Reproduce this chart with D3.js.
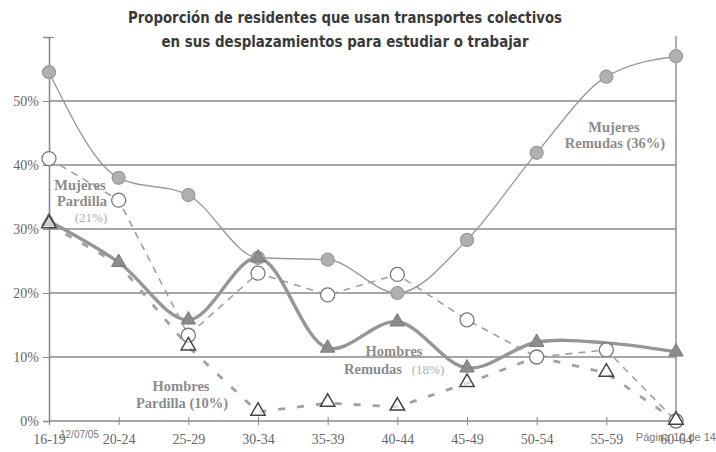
<!DOCTYPE html>
<html><head><meta charset="utf-8">
<script src="https://cdn.jsdelivr.net/npm/d3@7"></script>
<style>body{margin:0;background:#fff}svg{display:block}</style>
</head><body>
<script>
const categories = ["16-19","20-24","25-29","30-34","35-39","40-44","45-49","50-54","55-59","60-64"];
const mujeresRemudas = [54.5, 38, 35.3, 25.5, 25.2, 20, 28.3, 41.9, 53.8, 57];
const mujeresPardilla = [41, 34.5, 13.4, 23.1, 19.7, 22.9, 15.8, 10, 11.1, 0];
const hombresRemudas = [31.2, 24.8, 15.8, 25.5, 11.4, 15.5, 8.3, 12.3, 12.2, 10.8];
const hombresPardilla = [30.7, 24.5, 11.6, 1.4, 2.8, 2.2, 5.9, 10, 7.5, 0];
const yTicks = [0, 10, 20, 30, 40, 50];
const titleLines = ["Proporción de residentes que usan transportes colectivos", "en sus desplazamientos para estudiar o trabajar"];

const W = 716, H = 452;
const svg = d3.select("body").append("svg").attr("width", W).attr("height", H);
const x = d3.scalePoint().domain(categories).range([49, 676]);
const y = d3.scaleLinear().domain([0, 60]).range([421, 37]);

// gridlines
svg.append("g").selectAll("line").data(yTicks).join("line")
  .attr("x1", 49).attr("x2", 676).attr("y1", d => y(d)).attr("y2", d => y(d))
  .attr("stroke", "#8a8a8a").attr("stroke-width", 1.6);
// y axis
const yAxis = d3.axisLeft(y).tickValues(yTicks.concat([60])).tickSize(6).tickFormat(d => d === 60 ? "" : d + "%");
const gy = svg.append("g").attr("transform", "translate(49,0)").call(yAxis);
gy.select(".domain").attr("stroke", "#8a8a8a").attr("stroke-width", 1.6);
gy.selectAll(".tick line").attr("stroke", "#8a8a8a").attr("x2", 0).attr("x1", -6);
gy.selectAll(".tick").filter(d => d === 60).select("line").attr("x1", -5).attr("x2", 5);
gy.selectAll("text").attr("x", -10).attr("font-family", "Liberation Serif").attr("font-size", 14).attr("fill", "#666");
// right line
svg.append("line").attr("x1", 676).attr("x2", 676).attr("y1", y(60) - 1).attr("y2", y(0))
  .attr("stroke", "#8a8a8a").attr("stroke-width", 1.4);
// x axis
const xAxis = d3.axisBottom(x).tickSize(4).tickSizeOuter(0);
const gx = svg.append("g").attr("transform", `translate(0,${y(0)})`).call(xAxis);
gx.select(".domain").remove();
gx.selectAll(".tick line").attr("stroke", "#8a8a8a").attr("y1", -4).attr("y2", 4);
gx.selectAll("text").attr("y", 13).attr("font-family", "Liberation Serif").attr("font-size", 14).attr("fill", "#666");

const pts = arr => arr.map((v, i) => [x(categories[i]), y(v)]);

// Mujeres Remudas: thin solid
svg.append("path").attr("d", d3.line().curve(d3.curveMonotoneX)(pts(mujeresRemudas)))
  .attr("fill", "none").attr("stroke", "#9a9a9a").attr("stroke-width", 1.4);
// Mujeres Pardilla: dashed
svg.append("path").attr("d", d3.line()(pts(mujeresPardilla)))
  .attr("fill", "none").attr("stroke", "#a0a0a0").attr("stroke-width", 1.6).attr("stroke-dasharray", "7,6");
// Hombres Pardilla: thick dashed
svg.append("path").attr("d", d3.line()(pts(hombresPardilla)))
  .attr("fill", "none").attr("stroke", "#a0a0a0").attr("stroke-width", 2.8).attr("stroke-dasharray", "7,12");
// Hombres Remudas: thick smooth
svg.append("path").attr("d", d3.line().curve(d3.curveCatmullRom.alpha(0.5))(pts(hombresRemudas)))
  .attr("fill", "none").attr("stroke", "#969696").attr("stroke-width", 3.4);

// markers
svg.append("g").selectAll("circle").data(pts(mujeresRemudas)).join("circle")
  .attr("cx", d => d[0]).attr("cy", d => d[1]).attr("r", 6.5)
  .attr("fill", "#b0b0b0").attr("stroke", "#999").attr("stroke-width", 1.2);
const tri = d3.symbol().type(d3.symbolTriangle).size(90);
svg.append("g").selectAll("path").data(pts(hombresRemudas).filter((d, i) => i !== 8)).join("path")
  .attr("d", tri).attr("transform", d => `translate(${d[0]},${d[1]})`)
  .attr("fill", "#8c8c8c").attr("stroke", "#7a7a7a");
svg.append("g").selectAll("circle").data(pts(mujeresPardilla)).join("circle")
  .attr("cx", d => d[0]).attr("cy", d => d[1]).attr("r", 7)
  .attr("fill", "#fff").attr("stroke", "#777").attr("stroke-width", 1.3);
svg.append("g").selectAll("path").data(pts(hombresPardilla).filter((d, i) => i !== 7 && i !== 1)).join("path")
  .attr("d", tri).attr("transform", d => `translate(${d[0]},${d[1] - 1})`)
  .attr("fill", "#fff").attr("fill-opacity", 0.6).attr("stroke", "#444").attr("stroke-width", 1.5);

// title
svg.append("g").selectAll("text").data(titleLines).join("text")
  .attr("x", 345).attr("y", (d, i) => 23 + i * 24).attr("text-anchor", "middle")
  .attr("font-family", "DejaVu Sans Condensed").attr("font-weight", "bold").attr("font-size", 15.5).attr("fill", "#3a3a3a")
  .attr("textLength", (d, i) => i === 0 ? 434 : 367).attr("lengthAdjust", "spacingAndGlyphs")
  .text(d => d);

// series labels
function label(lines) {
  lines.forEach(l => {
    svg.append("text").attr("x", l.x).attr("y", l.y).attr("text-anchor", l.anchor || "middle")
      .attr("font-family", "Liberation Serif").attr("font-weight", l.light ? "normal" : "bold")
      .attr("font-size", l.size || 14.5).attr("fill", l.light ? "#b0b0b0" : "#8c8c8c").text(l.t);
  });
}
label([{t: "Mujeres", x: 80, y: 190}, {t: "Pardilla", x: 82, y: 206}, {t: "(21%)", x: 91, y: 222, light: true, size: 13}]);
label([{t: "Mujeres", x: 614, y: 132}, {t: "Remudas (36%)", x: 615, y: 148}]);
label([{t: "Hombres", x: 394, y: 356}, {t: "Remudas", x: 373, y: 374}, {t: "(18%)", x: 428, y: 374, light: true, size: 13}]);
label([{t: "Hombres", x: 181, y: 391}, {t: "Pardilla (10%)", x: 182, y: 408}]);

// footer
svg.append("text").attr("x", 60).attr("y", 438).attr("font-family", "Liberation Sans").attr("font-size", 10).attr("fill", "#777").text("12/07/05");
svg.append("text").attr("x", 716).attr("y", 441).attr("text-anchor", "end").attr("font-family", "Liberation Sans").attr("font-size", 11).attr("fill", "#777").text("Página 10 de 14");
</script>
</body></html>
